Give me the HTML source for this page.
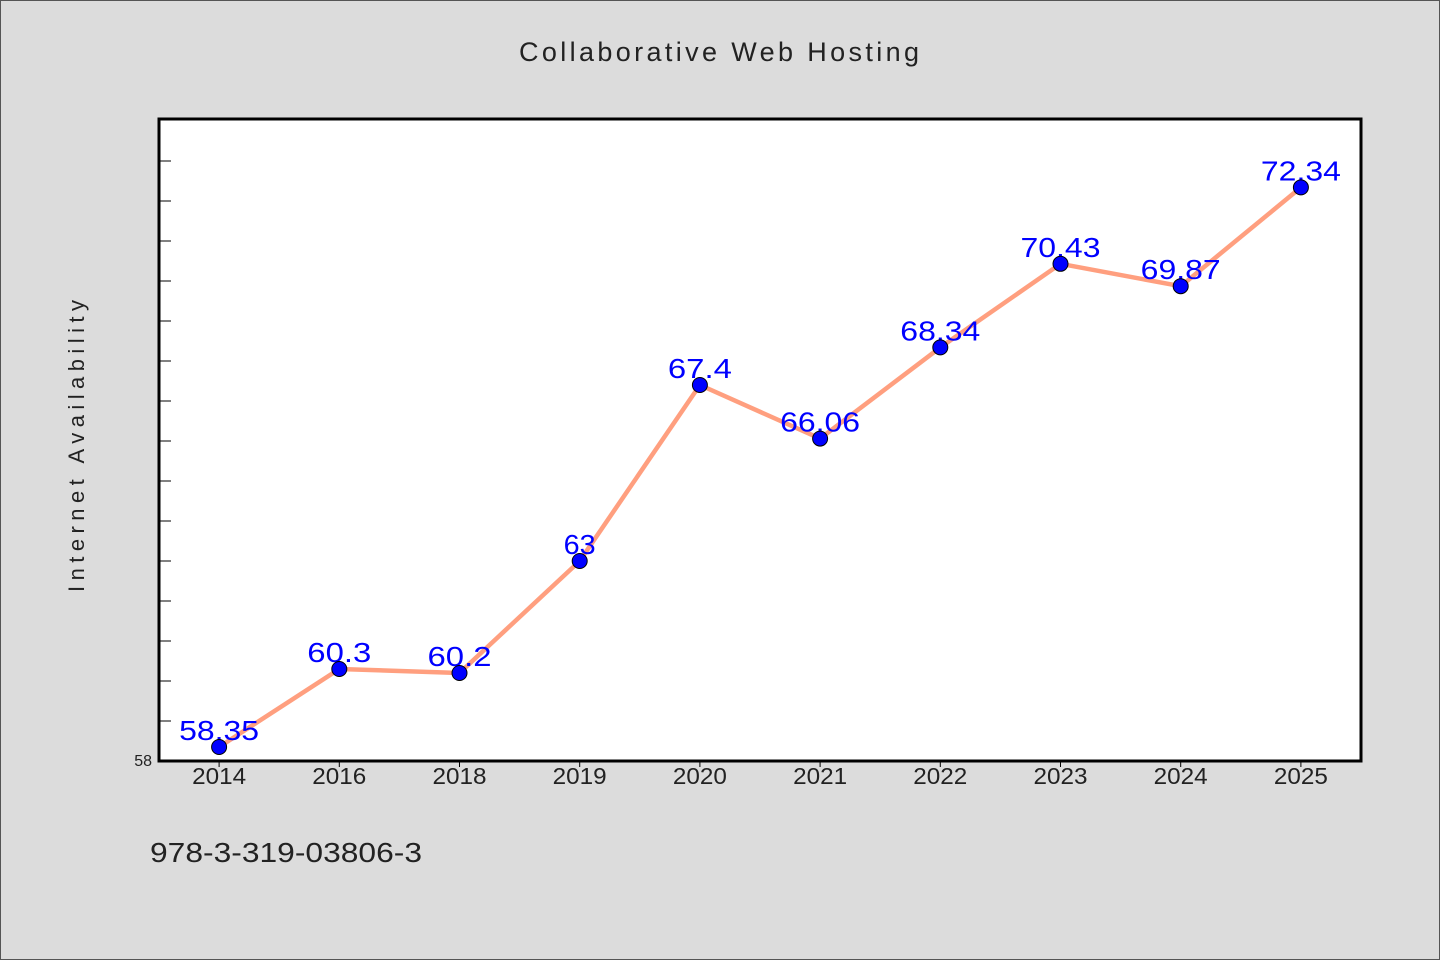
<!DOCTYPE html>
<html><head><meta charset="utf-8"><style>
body{margin:0;background:#dcdcdc;}
svg{display:block;}
text{font-family:"WenQuanYi Zen Hei Mono","WenQuanYi Zen Hei","Liberation Sans",sans-serif;}
</style></head><body>
<svg id="c" width="1440" height="960">
<rect x="0.5" y="0.5" width="1439" height="959" fill="#dcdcdc" stroke="#555"/>
<text x="719" y="61" text-anchor="middle" font-size="27" fill="#222" textLength="400" lengthAdjust="spacing">Collaborative Web Hosting</text>
<rect x="159" y="119" width="1202" height="642" fill="#fff" stroke="#000" stroke-width="3"/>
<text transform="translate(84,446) rotate(-90)" text-anchor="middle" font-size="22" fill="#222" textLength="292" lengthAdjust="spacing">Internet Availability</text>
<text x="150" y="862" font-size="28" fill="#222" textLength="272" lengthAdjust="spacingAndGlyphs">978-3-319-03806-3</text>
<g id="g"></g>
</svg>
<script>
const categories=["2014","2016","2018","2019","2020","2021","2022","2023","2024","2025"];
const values=[58.35,60.3,60.2,63,67.4,66.06,68.34,70.43,69.87,72.34];
const valueLabels=["58.35","60.3","60.2","63","67.4","66.06","68.34","70.43","69.87","72.34"];
const yTicks=[58,59,60,61,62,63,64,65,66,67,68,69,70,71,72,73];
const NS="http://www.w3.org/2000/svg";
const g=document.getElementById('g');
const L=159,R=1361,T=119,B=761,yMin=58,ppu=40;
const x=i=>L+(R-L)/categories.length*(i+0.5);
const y=v=>B-(v-yMin)*ppu;
function mk(t,a){const e=document.createElementNS(NS,t);for(const k in a)e.setAttribute(k,a[k]);g.appendChild(e);return e;}
yTicks.forEach((v,i)=>{
 const t=mk('line',{x1:L,x2:L+12,y1:y(v),y2:y(v),stroke:'#000','stroke-width':1});
 
 
});
const yl=mk('text',{x:152,y:B+5,'text-anchor':'end','font-size':16,fill:'#222'});yl.textContent="58";


categories.forEach((c,i)=>{
 const t=mk('line',{x1:x(i),x2:x(i),y1:B,y2:B+6,stroke:'#000','stroke-width':1});
 
 
 const l=mk('text',{x:x(i),y:B+23,'text-anchor':'middle','font-size':23,fill:'#222',textLength:c.length*13.5,lengthAdjust:'spacingAndGlyphs'});l.textContent=c;
 
 
});
const line=mk('polyline',{points:values.map((v,i)=>x(i)+','+y(v)).join(' '),fill:'none',stroke:'#ff9f7f','stroke-width':4.5,'stroke-linejoin':'round'});


values.forEach((v,i)=>{
 const s=valueLabels[i];
 const l=mk('text',{x:x(i),y:y(v)-7,'text-anchor':'middle','font-size':28,fill:'#0000ff',textLength:s.length*16,lengthAdjust:'spacingAndGlyphs'});l.textContent=s;
 
 
});
values.forEach((v,i)=>{
 const p=mk('circle',{cx:x(i),cy:y(v),r:7.5,fill:'#0000ff',stroke:'#000','stroke-width':1});
 
 
});
</script>
</body></html>
